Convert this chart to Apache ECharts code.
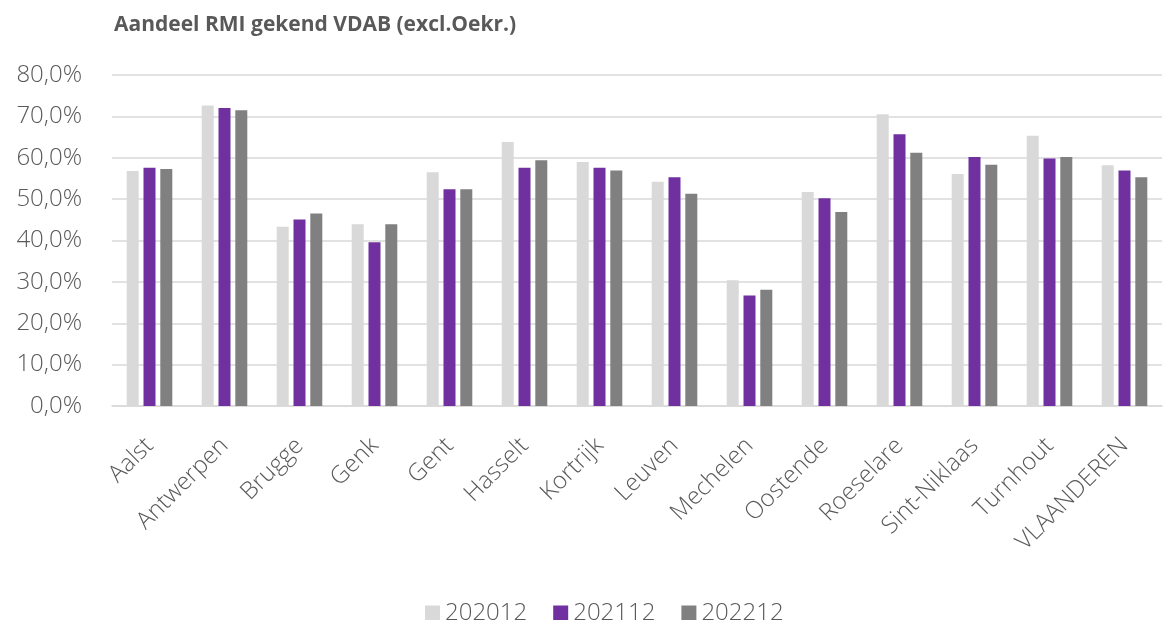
<!DOCTYPE html>
<html>
<head>
<meta charset="utf-8">
<script src="https://cdn.jsdelivr.net/npm/echarts@6/dist/echarts.min.js"></script>
<style>
  html, body { margin: 0; padding: 0; background: #fff; }
  #chart { width: 1164px; height: 620px; }
</style>
</head>
<body>
<div id="chart"></div>
<script>
// Aandeel RMI gekend VDAB per regio
var categories = ['Aalst', 'Antwerpen', 'Brugge', 'Genk', 'Gent', 'Hasselt', 'Kortrijk',
  'Leuven', 'Mechelen', 'Oostende', 'Roeselare', 'Sint-Niklaas', 'Turnhout', 'VLAANDEREN'];
var seriesNames = ['202012', '202112', '202212'];
var v202012 = [56.8, 72.6, 43.3, 43.9, 56.5, 63.8, 59.0, 54.2, 30.4, 51.7, 70.5, 56.1, 65.3, 58.2];
var v202112 = [57.6, 72.0, 45.1, 39.6, 52.4, 57.6, 57.6, 55.3, 26.7, 50.2, 65.7, 60.2, 59.8, 56.9];
var v202212 = [57.3, 71.5, 46.5, 43.9, 52.4, 59.4, 56.9, 51.3, 28.1, 46.9, 61.2, 58.3, 60.2, 55.3];
var colors = ['#d9d9d9', '#7030a0', '#808080'];

var txt = '#595959';
var allValues = [v202012, v202112, v202212];

var option = {
  animation: false,
  backgroundColor: '#fff',
  title: {
    text: 'Aandeel RMI gekend VDAB (excl.Oekr.)',
    left: 109,
    top: 10,
    textStyle: {
      fontFamily: 'Open Sans',
      fontSize: 21,
      fontWeight: 'bold',
      color: txt
    }
  },
  legend: {
    data: seriesNames,
    left: 425,
    top: 601,
    padding: 0,
    icon: 'rect',
    itemWidth: 15,
    itemHeight: 15,
    itemGap: 26,
    textStyle: {
      fontFamily: 'Open Sans',
      fontWeight: 300,
      fontSize: 24,
      color: txt
    }
  },
  grid: {
    left: 112,
    right: 2,
    top: 75,
    bottom: 214,
    containLabel: false
  },
  xAxis: {
    type: 'category',
    data: categories,
    axisTick: { show: false },
    axisLine: { show: true, lineStyle: { color: '#d9d9d9', width: 1.5 } },
    axisLabel: {
      rotate: 45,
      margin: 36,
      interval: 0,
      fontFamily: 'Open Sans',
      fontWeight: 300,
      fontSize: 24,
      color: txt
    }
  },
  yAxis: {
    type: 'value',
    min: 0,
    max: 80,
    interval: 10,
    axisLine: { show: false },
    axisTick: { show: false },
    axisLabel: {
      margin: 30,
      fontFamily: 'Open Sans',
      fontWeight: 300,
      fontSize: 24,
      color: txt,
      formatter: function (v) { return v.toFixed(1).replace('.', ',') + '%'; }
    },
    splitLine: { lineStyle: { color: '#d9d9d9', width: 1.5 } }
  },
  series: seriesNames.map(function (name, i) {
    return {
      name: name,
      type: 'bar',
      barWidth: 12,
      barGap: '40%',
      itemStyle: { color: colors[i] },
      data: allValues[i]
    };
  })
};

var myChart = echarts.init(document.getElementById('chart'));
myChart.setOption(option);
</script>
</body>
</html>
